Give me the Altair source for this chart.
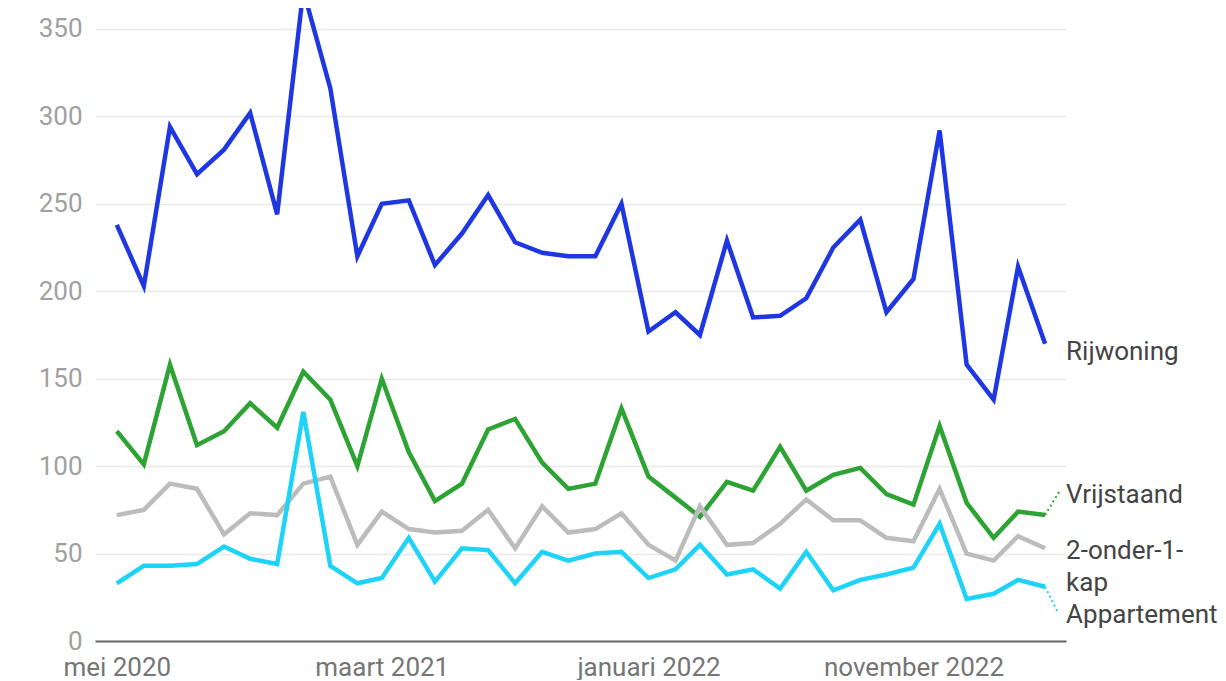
import altair as alt
import pandas as pd

months = pd.date_range("2020-05-01", "2023-04-01", freq="MS").strftime("%Y-%m-%d").tolist()

rijwoning = [238, 203, 294, 267, 281, 302, 244, 372, 316, 220, 250, 252,
             215, 233, 255, 228, 222, 220, 220, 250, 177, 188, 175, 229,
             185, 186, 196, 225, 241, 188, 207, 292, 158, 138, 214, 170]
vrijstaand = [120, 101, 158, 112, 120, 136, 122, 154, 138, 100, 150, 108,
              80, 90, 121, 127, 102, 87, 90, 133, 94, 82, 71, 91,
              86, 111, 86, 95, 99, 84, 78, 123, 79, 59, 74, 72]
twee_onder_een_kap = [72, 75, 90, 87, 61, 73, 72, 90, 94, 55, 74, 64,
                      62, 63, 75, 53, 77, 62, 64, 73, 55, 46, 77, 55,
                      56, 67, 81, 69, 69, 59, 57, 87, 50, 46, 60, 53]
appartement = [33, 43, 43, 44, 54, 47, 44, 131, 43, 33, 36, 59,
               34, 53, 52, 33, 51, 46, 50, 51, 36, 41, 55, 38,
               41, 30, 51, 29, 35, 38, 42, 67, 24, 27, 35, 31]

series_names = ["Rijwoning", "Vrijstaand", "2-onder-1-kap", "Appartement"]
series_values = [rijwoning, vrijstaand, twee_onder_een_kap, appartement]
series_colors = ["#1f37e2", "#2ca333", "#bcbcbc", "#1ed3f8"]

rows = []
for name, vals in zip(series_names, series_values):
    for m, v in zip(months, vals):
        rows.append({"maand": m, "type": name, "aantal": v})
df = pd.DataFrame(rows)

FONT = "Roboto"

x_enc = alt.X(
    "maand:T",
    scale=alt.Scale(
        type="utc",
        domain=[alt.DateTime(year=2020, month=4, date=6, utc=True),
                alt.DateTime(year=2023, month=4, date=25, utc=True)],
        nice=False,
    ),
    axis=alt.Axis(
        title=None,
        values=[alt.DateTime(year=2020, month=5, date=1, utc=True),
                alt.DateTime(year=2021, month=3, date=1, utc=True),
                alt.DateTime(year=2022, month=1, date=1, utc=True),
                alt.DateTime(year=2022, month=11, date=1, utc=True)],
        labelExpr="['januari','februari','maart','april','mei','juni','juli','augustus','september','oktober','november','december'][utcmonth(datum.value)] + ' ' + utcyear(datum.value)",
        grid=False,
        ticks=False,
        domain=True,
        domainColor="#666666",
        domainWidth=2,
        labelFont=FONT,
        labelFontSize=26,
        labelColor="#757575",
        labelPadding=13,
        labelFlush=False,
        labelOverlap=False,
        labelLimit=400,
    ),
)

y_enc = alt.Y(
    "aantal:Q",
    scale=alt.Scale(domain=[0, 362], nice=False, zero=True),
    axis=alt.Axis(
        title=None,
        values=[0, 50, 100, 150, 200, 250, 300, 350],
        grid=True,
        gridColor="#e9e9e9",
        gridWidth=1.5,
        ticks=False,
        domain=False,
        labelFont=FONT,
        labelFontSize=26,
        labelColor="#a0a0a0",
        labelPadding=13,
    ),
)

color_enc = alt.Color(
    "type:N",
    scale=alt.Scale(domain=series_names, range=series_colors),
    legend=None,
)

lines = alt.Chart(df).mark_line(strokeWidth=4.5, clip=True, strokeJoin="miter").encode(
    x=x_enc, y=y_enc, color=color_enc, detail="type:N"
)

# end-of-line labels
last = pd.DataFrame({
    "maand": [months[-1]] * 4,
    "type": series_names,
    "aantal": [s[-1] for s in series_values],
})

label_layers = []
label_style = {
    "Rijwoning": dict(dy=8, baseline="middle", text="Rijwoning"),
    "Vrijstaand": dict(dy=-20, baseline="middle", text="Vrijstaand"),
    "2-onder-1-kap": dict(dy=-10, baseline="top", text=["2-onder-1-", "kap"]),
    "Appartement": dict(dy=28, baseline="middle", text="Appartement"),
}
for name in series_names:
    st = label_style[name]
    lyr = alt.Chart(last[last["type"] == name]).mark_text(
        align="left", baseline=st["baseline"], dx=21, dy=st["dy"],
        font=FONT, fontSize=26, color="#444444", lineHeight=32,
        text=st["text"], clip=False,
    ).encode(
        x=alt.X("maand:T"), y=alt.Y("aantal:Q")
    )
    label_layers.append(lyr)

# dotted connectors for offset labels
conn = pd.DataFrame({
    "maand": [months[-1], months[-1]],
    "maand2": ["2023-04-18", "2023-04-15"],
    "type": ["Vrijstaand", "Appartement"],
    "aantal": [vrijstaand[-1], appartement[-1]],
    "aantal2": [vrijstaand[-1] + 14, appartement[-1] - 14],
})
connectors = alt.Chart(conn).mark_rule(strokeDash=[2, 3], strokeWidth=2, clip=False).encode(
    x="maand:T", x2="maand2:T", y="aantal:Q", y2="aantal2:Q",
    color=alt.Color("type:N", scale=alt.Scale(domain=series_names, range=series_colors), legend=None),
)

chart = alt.layer(lines, connectors, *label_layers).properties(
    width=971, height=633,
    padding={"left": 30, "top": 0, "right": 0, "bottom": 0},
).configure(
    background="white",
    view=alt.ViewConfig(stroke="transparent", strokeWidth=0),
)

chart.save("out.html", embed_options={"renderer": "svg", "actions": False})
